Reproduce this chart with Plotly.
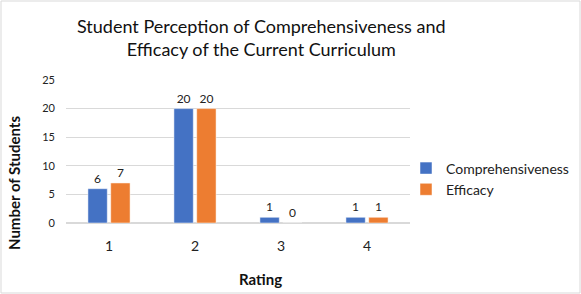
import plotly.graph_objects as go

categories = ["1", "2", "3", "4"]
comprehensiveness = [6, 20, 1, 1]
efficacy = [7, 20, 0, 1]
y_ticks = [0, 5, 10, 15, 20, 25]

FONT = "Lato"
L, R, T, B = 66, 410, 80, 223  # plot area in pixels
PW, PH = R - L, B - T


def px_x(x):
    return (x - L) / PW


def px_y(y):
    return (B - y) / PH


fig = go.Figure()
fig.add_trace(go.Bar(x=categories, y=comprehensiveness, name="Comprehensiveness",
                     marker=dict(color="#4472C4", line=dict(color="white", width=0.5)),
                     text=[str(v) for v in comprehensiveness], textposition="outside",
                     textfont=dict(family=FONT, size=12, color="#222"), cliponaxis=False))
fig.add_trace(go.Bar(x=categories, y=efficacy, name="Efficacy",
                     marker=dict(color="#ED7D31", line=dict(color="white", width=0.5)),
                     text=[str(v) for v in efficacy], textposition="outside",
                     textfont=dict(family=FONT, size=12, color="#222"), cliponaxis=False))

fig.update_layout(
    width=581, height=294,
    margin=dict(l=L, r=581 - R, t=T, b=294 - B, autoexpand=False),
    paper_bgcolor="white", plot_bgcolor="white",
    font=dict(family=FONT, color="#222"),
    barmode="group", bargap=0.47, bargroupgap=0.15,
    legend=dict(x=px_x(406), y=px_y(179), xanchor="left", yanchor="middle",
                font=dict(family=FONT, size=14, color="#222"),
                itemwidth=30, tracegroupgap=9, bgcolor="rgba(0,0,0,0)"),
    xaxis=dict(showgrid=False, showline=True, linecolor="#d9d9d9", ticks="",
               ticklabelstandoff=10,
               tickfont=dict(family=FONT, size=14, color="#222")),
    yaxis=dict(range=[0, 25], tickvals=y_ticks, showgrid=True, gridcolor="#d9d9d9",
               zeroline=True, zerolinecolor="#d9d9d9", showline=False, ticks="",
               ticklabelstandoff=10,
               tickfont=dict(family=FONT, size=11, color="#222")),
    annotations=[
        dict(text="Student Perception of Comprehensiveness and<br>Efficacy of the Current Curriculum",
             xref="paper", yref="paper", x=px_x(261), y=px_y(38),
             xanchor="center", yanchor="middle", showarrow=False,
             font=dict(family=FONT, size=18, color="#111")),
        dict(text="<b>Rating</b>", xref="paper", yref="paper",
             x=px_x(260), y=px_y(279), xanchor="center", yanchor="middle",
             showarrow=False, font=dict(family=FONT, size=15, color="#111")),
        dict(text="<b>Number of Students</b>", xref="paper", yref="paper",
             x=px_x(14), y=px_y(183), xanchor="center", yanchor="middle", textangle=-90,
             showarrow=False, font=dict(family=FONT, size=15, color="#111")),
    ],
    shapes=[dict(type="rect", xref="paper", yref="paper",
                 x0=px_x(1), x1=px_x(580), y0=px_y(293), y1=px_y(1),
                 line=dict(color="#d9d9d9", width=1))],
)

fig.write_html("out.html", config={"displayModeBar": False},
               post_script="document.body.style.margin='0';document.body.style.overflow='hidden';")
